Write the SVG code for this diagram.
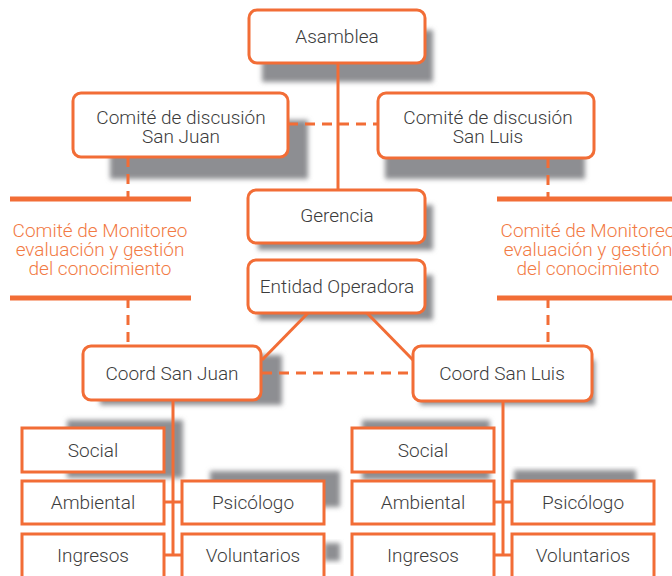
<svg xmlns="http://www.w3.org/2000/svg" width="672" height="576" viewBox="0 0 672 576">
<defs>
<filter id="blur" x="-20%" y="-20%" width="140%" height="140%"><feGaussianBlur stdDeviation="2.5"/></filter>
<style>
.shadow{fill:#8d8e92;filter:url(#blur)}
.node{fill:#fff;stroke:#f26d36;stroke-width:3}
.t{font-family:Roboto,"Liberation Sans",sans-serif;font-size:19px;fill:#3c3c3c;text-anchor:middle;font-weight:300}
.mt{font-family:Roboto,"Liberation Sans",sans-serif;font-size:19px;fill:#f27a44;text-anchor:middle;font-weight:300}
.solid{stroke:#f26d36;stroke-width:3;fill:none}
.dash{stroke:#f26d36;stroke-width:3;fill:none;stroke-dasharray:10 7}
.bar{stroke:#f26d36;stroke-width:5}
</style>
</defs>
<rect width="672" height="576" fill="#fff"/>
<g id="shadows">
<rect class="shadow" x="262" y="30" width="171" height="52"/>
<rect class="shadow" x="110" y="120" width="198" height="59"/>
<rect class="shadow" x="385" y="120" width="200" height="59"/>
<rect class="shadow" x="258" y="205" width="175" height="45"/>
<rect class="shadow" x="258" y="275" width="175" height="45"/>
<rect class="shadow" x="100" y="355" width="182" height="50"/>
<rect class="shadow" x="420" y="360" width="175" height="45"/>
<rect class="shadow" x="67" y="420" width="116" height="58"/>
<rect class="shadow" x="210" y="471" width="130" height="36"/>
<rect class="shadow" x="324" y="543" width="16" height="18"/>
<rect class="shadow" x="362" y="420" width="128" height="60"/>
<rect class="shadow" x="514" y="470" width="122" height="20"/>
</g>
<g id="connectors">
<line class="solid" x1="338" y1="63" x2="338" y2="190"/>
<line class="dash" x1="288" y1="124" x2="378" y2="124"/>
<line class="dash" x1="128" y1="157" x2="128" y2="199"/>
<line class="dash" x1="128" y1="298" x2="128" y2="346"/>
<line class="dash" x1="548" y1="158" x2="548" y2="199"/>
<line class="dash" x1="548" y1="298" x2="548" y2="346"/>
<line class="solid" x1="308" y1="313" x2="262" y2="360"/>
<line class="solid" x1="367" y1="313" x2="413" y2="360"/>
<line class="dash" x1="262" y1="373" x2="413" y2="373"/>
<line class="solid" x1="173" y1="400" x2="173" y2="555"/>
<line class="solid" x1="164" y1="502" x2="182" y2="502"/>
<line class="solid" x1="164" y1="555" x2="182" y2="555"/>
<line class="solid" x1="503" y1="401" x2="503" y2="555"/>
<line class="solid" x1="494" y1="502" x2="512" y2="502"/>
<line class="solid" x1="494" y1="555" x2="512" y2="555"/>
</g>
<g id="asamblea"><rect class="node" x="249" y="10" width="176" height="53" rx="8"/><text class="t" x="337" y="43">Asamblea</text></g>
<g id="comite-sj"><rect class="node" x="73" y="93" width="215" height="64" rx="8"/><text class="t" x="181" y="124">Comité de discusión</text><text class="t" x="181" y="143">San Juan</text></g>
<g id="comite-sl"><rect class="node" x="378" y="93" width="216" height="65" rx="8"/><text class="t" x="488" y="124">Comité de discusión</text><text class="t" x="488" y="143">San Luis</text></g>
<g id="gerencia"><rect class="node" x="248" y="190" width="177" height="53" rx="8"/><text class="t" x="337" y="222">Gerencia</text></g>
<g id="entidad"><rect class="node" x="248" y="260" width="177" height="53" rx="8"/><text class="t" x="337" y="293">Entidad Operadora</text></g>
<g id="monitoreo-left">
<line class="bar" x1="10" y1="199" x2="191" y2="199"/><line class="bar" x1="10" y1="298" x2="191" y2="298"/>
<text class="mt" x="100" y="237">Comité de Monitoreo</text><text class="mt" x="100" y="256">evaluación y gestión</text><text class="mt" x="100" y="275">del conocimiento</text>
</g>
<g id="monitoreo-right">
<line class="bar" x1="497" y1="199" x2="672" y2="199"/><line class="bar" x1="497" y1="298" x2="672" y2="298"/>
<text class="mt" x="588" y="237">Comité de Monitoreo</text><text class="mt" x="588" y="256">evaluación y gestión</text><text class="mt" x="588" y="275">del conocimiento</text>
</g>
<g id="coord-sj"><rect class="node" x="83" y="346" width="178" height="54" rx="8"/><text class="t" x="172" y="380">Coord San Juan</text></g>
<g id="coord-sl"><rect class="node" x="413" y="346" width="179" height="55" rx="8"/><text class="t" x="502" y="380">Coord San Luis</text></g>
<g id="social-sj"><rect class="node" x="22" y="428" width="142" height="44"/><text class="t" x="93" y="457">Social</text></g>
<g id="ambiental-sj"><rect class="node" x="22" y="481" width="142" height="43"/><text class="t" x="93" y="509">Ambiental</text></g>
<g id="ingresos-sj"><rect class="node" x="22" y="534" width="142" height="50"/><text class="t" x="93" y="562">Ingresos</text></g>
<g id="psicologo-sj"><rect class="node" x="182" y="481" width="142" height="43"/><text class="t" x="253" y="509">Psicólogo</text></g>
<g id="voluntarios-sj"><rect class="node" x="182" y="534" width="142" height="50"/><text class="t" x="253" y="562">Voluntarios</text></g>
<g id="social-sl"><rect class="node" x="352" y="428" width="142" height="44"/><text class="t" x="423" y="457">Social</text></g>
<g id="ambiental-sl"><rect class="node" x="352" y="481" width="142" height="43"/><text class="t" x="423" y="509">Ambiental</text></g>
<g id="ingresos-sl"><rect class="node" x="352" y="534" width="142" height="50"/><text class="t" x="423" y="562">Ingresos</text></g>
<g id="psicologo-sl"><rect class="node" x="512" y="481" width="142" height="43"/><text class="t" x="583" y="509">Psicólogo</text></g>
<g id="voluntarios-sl"><rect class="node" x="512" y="534" width="142" height="50"/><text class="t" x="583" y="562">Voluntarios</text></g>
</svg>
